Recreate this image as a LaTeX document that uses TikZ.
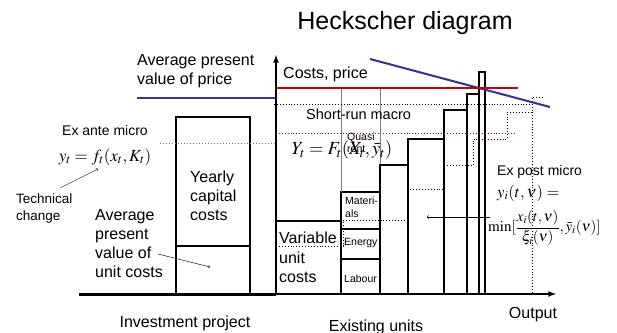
\documentclass[tikz,border=0pt]{standalone}
\usepackage{mathptmx}
\usepackage{fontspec}
\setmainfont{Liberation Sans}
\definecolor{priceblue}{RGB}{51,51,153}
\definecolor{costred}{RGB}{204,0,0}
\definecolor{dotblue}{RGB}{110,110,200}

\begin{document}
\begin{tikzpicture}[x=1pt, y=-1pt]
    \tikzstyle{txt}=[inner sep=0pt, align=left, font=\fontsize{16}{19}\selectfont]
    \tikzstyle{smalltxt}=[inner sep=0pt, align=left, font=\fontsize{14}{17}\selectfont]
    \tikzstyle{tinytxt}=[inner sep=0pt, align=left, font=\fontsize{10.5}{13}\selectfont]
    \tikzstyle{bar}=[line width=1.2pt]
    \tikzstyle{steps}=[dotted, line width=0.9pt]

    \useasboundingbox (0,0) rectangle (617,332);

    \coordinate (origin) at (276,294);
    \coordinate (yend) at (276,55);
    \coordinate (xend) at (556,294);
    \coordinate (xstart) at (79,294);

    % investment project
    \draw [bar] (176,294) -- (176,117) -- (250,117) -- (250,294);
    \draw [bar] (176,246) -- (250,246);

    % existing units
    \draw [bar] (276,221) -- (341,221) -- (341,294);
    \draw [bar] (341,192) rectangle (380,294);
    \draw [bar] (341,229) -- (380,229);
    \draw [bar] (341,259) -- (380,259);
    \draw [gray, line width=0.8pt] (341,88) -- (341,192);
    \draw [gray, line width=0.8pt] (380,88) -- (380,192);
    \foreach \a/\b/\h in {380/408/165, 408/444/139, 444/467/110, 467/479/94, 479/485/72}
        \draw [bar] (\a,294) -- (\a,\h) -- (\b,\h) -- (\b,294);
    \draw [line width=1.8pt] (444,139) -- (444,294);

    % short-run macro step
    \draw [steps] (276,246) -- (343,246) -- (343,220) -- (408,220) -- (408,189)
        -- (443,189) -- (443,165) -- (473,165) -- (473,139) -- (507,139)
        -- (507,112) -- (532,112) -- (532,97) -- (542,97);
    \draw [steps] (532,112) -- (532,294);

    % price and cost lines
    \draw [priceblue, line width=2pt] (137,98) -- (276,98);
    \draw [priceblue, line width=2pt] (370,59) -- (550,107);
    \draw [costred, line width=2.2pt] (276,88) -- (518,88);
    \draw [dotted, line width=0.9pt] (274,104) -- (533,104);
    \draw [costred, dotted, line width=0.9pt] (276,133) -- (516,133);
    \draw [dotblue, dotted, line width=1pt] (160,143) -- (276,143);

    % axes
    \draw [line width=3pt] (xstart) -- (origin);
    \draw [-latex, line width=1.6pt] (origin) -- (xend);
    \draw [-latex, line width=1.6pt] (origin) -- (yend);

    \node (title) at (405,23) [font=\fontsize{25}{30}\selectfont] {Heckscher diagram};
    \node (price) at (137,54) [txt, anchor=north west] {Average present\\value of price};
    \node (costs) at (283,67) [txt, anchor=north west] {Costs, price};
    \node (macro) at (306,109) [txt, anchor=north west, font=\fontsize{14.5}{17}\selectfont] {Short-run macro};
    \node (exante) at (62,125) [smalltxt, anchor=north west] {Ex ante micro};
    \node (exante-eq) at (105,157) [font=\fontsize{17}{20}\selectfont] {$y_t = f_t(x_t, K_t)$};
    \node (techchange) at (16,194) [smalltxt, anchor=north west, font=\fontsize{13.5}{17}\selectfont] {Technical\\change};
    \node (capital) at (190,171) [txt, anchor=north west] {Yearly\\capital\\costs};
    \node (unitcosts) at (95,209) [txt, anchor=north west] {Average\\present\\value of\\unit costs};
    \node (variable) at (279,232) [txt, anchor=north west, font=\fontsize{16}{19.5}\selectfont] {Variable\\unit\\costs};
    \node (materials) at (345,197) [tinytxt, anchor=north west] {Materi-\\als};
    \node (energy) at (344,243) [tinytxt, anchor=west] {Energy};
    \node (labour) at (344,279) [tinytxt, anchor=west] {Labour};
    \node (quasi) at (347,133) [tinytxt, anchor=north west, font=\fontsize{10.5}{12}\selectfont] {Quasi\\rent};
    \node (macro-eq) at (342,150) [font=\fontsize{18.5}{22}\selectfont] {$Y_t = F_t(X_t, \bar{y}_t)$};
    \node (expost) at (497,172) [smalltxt, anchor=west] {Ex post micro};
    \node (expost-eq1) at (497,193) [anchor=west, inner sep=0pt, font=\fontsize{16.5}{19}\selectfont] {$y_i(t,\nu) =$};
    \node (expost-eq2) at (488,228) [anchor=west, inner sep=0pt, font=\fontsize{15}{18}\selectfont] {$\min[\displaystyle\frac{x_i(t,\nu)}{\xi_i(\nu)}, \bar{y}_i(\nu)]$};
    \node (output) at (533,315) [txt] {Output};
    \node (investment) at (185,323) [txt] {Investment project};
    \node (existing) at (376,327) [txt] {Existing units};

    \coordinate (tech-tail) at (60,188);
    \coordinate (tech-head) at (98,169);
    \coordinate (unit-tail) at (158,254);
    \coordinate (unit-head) at (210,267);
    \coordinate (expost-tail) at (490,217);
    \coordinate (expost-head) at (427,217);
    \draw [->] (tech-tail) to (tech-head);
    \draw [->] (unit-tail) to (unit-head);
    \draw [->] (expost-tail) to (expost-head);
\end{tikzpicture}
\end{document}
